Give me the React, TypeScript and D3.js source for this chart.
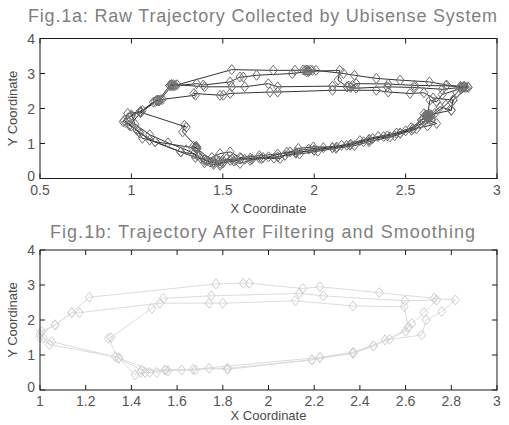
import React from 'react'
import * as d3 from 'd3'

// raw ubisense samples (fig 1a)
const rawX = [
  1.22, 1.23, 1.21, 1.24, 1.549, 1.776, 1.895, 1.94, 1.95, 1.96, 1.97, 1.98, 1.99, 2.01, 2.16, 2.22, 2.34, 2.47, 2.63, 2.725,
  2.80, 2.81, 2.82, 2.83, 2.843, 2.76, 2.75, 2.688, 2.64, 2.62, 2.61, 2.63, 2.615, 2.588, 2.533, 2.47, 2.415, 2.32, 2.27, 2.196,
  2.123, 1.995, 1.913, 1.868, 1.813, 1.713, 1.649, 1.594, 1.54, 1.485, 1.45, 1.40, 1.357, 1.35, 1.34, 1.36, 1.13, 1.047, 1.03, 0.99,
  0.956, 0.98, 1.047, 1.13, 1.14, 1.15, 1.16,
  1.22, 1.23, 1.357, 1.393, 1.54, 1.594, 1.612, 1.685, 1.88, 1.96, 1.97, 2.14, 2.13, 2.18, 2.19, 2.20, 2.21, 2.23, 2.405, 2.55,
  2.72, 2.80, 2.82, 2.70, 2.67, 2.633, 2.62, 2.61, 2.63, 2.60, 2.67, 2.62, 2.54, 2.47, 2.38, 2.30, 2.178, 2.10, 2.0, 1.90,
  1.80, 1.70, 1.594, 1.54, 1.485, 1.44, 1.42, 1.40, 1.35, 1.27, 1.13, 1.06, 1.03, 0.97, 0.99, 1.05, 1.14, 1.15, 1.17,
  1.35, 1.342, 1.485, 1.503, 1.54, 1.758, 1.80, 2.10, 2.34, 2.405, 2.524, 2.60, 2.65, 2.76, 2.75, 2.62, 2.615, 2.60, 2.625, 2.588,
  2.53, 2.45, 2.35, 2.25, 2.15, 2.05, 1.97, 1.85, 1.75, 1.65, 1.55, 1.50, 1.485, 1.45, 1.357, 1.35, 1.355, 1.28, 1.29, 1.30,
  1.047, 1.05, 1.0, 0.96, 1.0, 1.04, 1.10, 1.27, 1.34, 1.40, 1.45, 1.50, 1.56, 1.62, 1.7, 1.8, 1.9, 2.0, 2.1, 2.2,
  2.3, 2.4, 2.5, 2.58, 2.62, 2.63, 2.64, 2.66, 2.72, 2.78, 2.80, 2.82, 2.84,
  2.7, 2.55, 2.4, 2.23, 2.18, 2.10, 1.80, 1.749, 1.62, 1.549, 1.40, 1.25, 1.22, 1.21, 1.15, 1.12, 1.06, 1.0,
  1.02, 1.10, 1.2, 1.30, 1.36, 1.38, 1.41, 1.43, 1.46, 1.48, 1.50, 1.52, 1.57, 1.60, 1.66, 1.72, 1.78, 1.84, 1.92, 2.02,
  2.12, 2.22, 2.30, 2.44, 2.56, 2.60, 2.62, 2.64
]
const rawY = [
  2.67, 2.68, 2.65, 2.66, 3.11, 3.09, 3.09, 3.10, 3.09, 3.10, 3.08, 3.10, 3.09, 3.09, 3.0, 2.95, 2.86, 2.81, 2.76, 2.67,
  2.63, 2.61, 2.62, 2.60, 2.6, 2.24, 1.95, 2.05, 1.82, 1.78, 1.82, 1.75, 1.81, 1.67, 1.38, 1.29, 1.19, 1.14, 1.05, 0.95,
  0.9, 0.9, 0.86, 0.76, 0.57, 0.57, 0.52, 0.43, 0.52, 0.43, 0.45, 0.52, 0.9, 0.88, 0.92, 0.86, 1.05, 1.29, 1.38, 1.52,
  1.62, 1.86, 1.90, 2.2, 2.24, 2.22, 2.25,
  2.66, 2.64, 2.71, 2.67, 2.76, 2.90, 2.90, 2.95, 3.0, 3.05, 3.06, 3.09, 2.81, 2.62, 2.64, 2.60, 2.66, 2.71, 2.70, 2.66,
  2.65, 2.62, 2.60, 2.4, 2.19, 2.24, 1.81, 1.79, 1.83, 1.72, 1.57, 1.5, 1.42, 1.30, 1.20, 1.10, 0.95, 0.88, 0.80, 0.75,
  0.70, 0.65, 0.60, 0.76, 0.71, 0.60, 0.50, 0.55, 0.6, 0.76, 1.05, 1.15, 1.40, 1.60, 1.52, 1.88, 2.22, 2.21, 2.26,
  2.38, 2.43, 2.38, 2.38, 2.43, 2.47, 2.47, 2.52, 2.52, 2.47, 2.43, 2.45, 2.3, 2.24, 1.95, 1.81, 1.78, 1.85, 1.76, 1.67,
  1.45, 1.3, 1.2, 1.08, 0.95, 0.88, 0.84, 0.75, 0.62, 0.58, 0.55, 0.52, 0.38, 0.48, 0.86, 0.90, 0.92, 1.33, 1.52, 1.47,
  1.90, 1.92, 1.78, 1.66, 1.50, 1.34, 1.1, 0.76, 0.7, 0.45, 0.40, 0.45, 0.50, 0.55, 0.58, 0.62, 0.72, 0.82, 0.88, 0.98,
  1.12, 1.22, 1.36, 1.55, 1.70, 1.80, 1.78, 1.86, 2.10, 2.45, 2.58, 2.63, 2.62,
  2.55, 2.6, 2.62, 2.58, 2.62, 2.64, 2.62, 2.71, 2.62, 2.62, 2.62, 2.68, 2.69, 2.66, 2.24, 2.18, 1.95, 1.82,
  1.55, 1.25, 1.02, 0.82, 0.66, 0.58, 0.52, 0.47, 0.55, 0.50, 0.44, 0.56, 0.52, 0.58, 0.55, 0.60, 0.58, 0.66, 0.70, 0.78,
  0.86, 0.94, 1.05, 1.22, 1.42, 1.62, 1.74, 1.70
]

// filtered + smoothed track (fig 1b)
const smoothX = [
  1.007, 1.066, 1.139, 1.216, 1.77, 1.89, 1.916, 2.15, 2.225, 2.485, 2.724, 2.818, 2.758, 2.69, 2.67, 2.51, 2.459, 2.37, 2.225, 2.19,
  1.82, 1.74, 1.68, 1.547, 1.445, 1.343, 1.3, 1.31, 1.489, 1.54, 1.75, 2.135, 2.24, 2.597, 2.736, 2.68, 2.627, 2.612, 2.53, 2.37,
  2.225, 1.67, 1.62, 1.56, 1.48, 1.46, 1.44, 1.416, 1.345, 1.051, 1.015, 1.0, 1.066, 1.139, 1.172, 1.525, 1.74, 1.8, 2.117, 2.37,
  2.594, 2.612, 2.60, 2.459, 2.37, 2.19, 1.82, 1.55, 1.51, 1.33, 1.041, 1.0
]
const smoothY = [
  1.67, 1.86, 2.21, 2.65, 3.03, 3.05, 3.05, 2.9, 2.95, 2.78, 2.62, 2.57, 2.24, 2.0, 1.57, 1.43, 1.26, 1.05, 0.93, 0.86,
  0.59, 0.62, 0.57, 0.57, 0.57, 0.9, 1.48, 1.5, 2.33, 2.62, 2.69, 2.76, 2.69, 2.55, 2.57, 2.21, 1.9, 1.79, 1.45, 1.08,
  0.93, 0.59, 0.57, 0.55, 0.5, 0.5, 0.5, 0.43, 0.92, 1.38, 1.48, 1.6, 1.86, 2.21, 2.21, 2.48, 2.48, 2.48, 2.55, 2.4,
  2.38, 1.8, 1.68, 1.26, 1.05, 0.86, 0.62, 0.57, 0.5, 0.95, 1.30, 1.5
]

const topXTicks = [0.5, 1, 1.5, 2, 2.5, 3]
const botXTicks = [1, 1.2, 1.4, 1.6, 1.8, 2, 2.2, 2.4, 2.6, 2.8, 3]
const yTicks = [0, 1, 2, 3, 4]

const font = '"Liberation Sans", Arial, sans-serif'

function diamond(x: number, y: number) {
  return `M${x},${y - 5}L${x + 4},${y}L${x},${y + 5}L${x - 4},${y}Z`
}

function Panel(props: any) {
  const { xs, ys, xDomain, xTicks, top, title, titleLen, lineColor, markColor, titleY, xLabelGap } = props
  const left = 40, right = 497, bottom = top + 140

  const xScale = d3.scaleLinear().domain(xDomain).range([left, right])
  const yScale = d3.scaleLinear().domain([0, 4]).range([bottom, top])

  const pts: [number, number][] = xs.map((x: number, i: number) => [x, ys[i]])
  const line = d3.line<[number, number]>()
    .x(d => xScale(d[0]))
    .y(d => yScale(d[1]))

  return (
    <g>
      <text x={262.5} y={titleY} textAnchor='middle' fill='#7f7f7f'
        fontSize={18} fontFamily={font} textLength={titleLen} lengthAdjust='spacing'>{title}</text>

      <path d={line(pts) || ''} fill='none' stroke={lineColor} strokeWidth={1} />
      {pts.map((d, i) => (
        <path key={i} d={diamond(xScale(d[0]), yScale(d[1]))} fill='none'
          stroke={markColor} strokeWidth={1} />
      ))}

      <rect x={left} y={top} width={right - left} height={bottom - top}
        fill='none' stroke='#1a1a1a' strokeWidth={1} />

      {xTicks.map((t: number) => (
        <g key={'x' + t}>
          <line x1={xScale(t)} x2={xScale(t)} y1={bottom} y2={bottom - 5} stroke='#1a1a1a' />
          <line x1={xScale(t)} x2={xScale(t)} y1={top} y2={top + 5} stroke='#1a1a1a' />
          <text x={xScale(t)} y={bottom + 16} textAnchor='middle' fill='#555'
            fontSize={14} fontFamily={font}>{t}</text>
        </g>
      ))}
      {yTicks.map(t => (
        <g key={'y' + t}>
          <line x1={left} x2={left + 5} y1={yScale(t)} y2={yScale(t)} stroke='#1a1a1a' />
          <line x1={right} x2={right - 5} y1={yScale(t)} y2={yScale(t)} stroke='#1a1a1a' />
          <text x={left - 5} y={yScale(t) + (t === 0 ? 2 : 5)} textAnchor='end' fill='#555'
            fontSize={14} fontFamily={font}>{t}</text>
        </g>
      ))}

      <text x={(left + right) / 2} y={bottom + xLabelGap} textAnchor='middle' fill='#4a4a4a'
        fontSize={13} fontFamily={font}>X Coordinate</text>
      <text transform={`translate(${17},${(top + bottom) / 2}) rotate(-90)`} textAnchor='middle'
        fill='#4a4a4a' fontSize={13} fontFamily={font}>Y Coordinate</text>
    </g>
  )
}

export default function App() {
  return (
    <svg width={509} height={425} style={{ position: 'absolute', left: 0, top: 0, background: '#fff' }}>
      <Panel xs={rawX} ys={rawY} xDomain={[0.5, 3]} xTicks={topXTicks} top={38.5} titleY={22} titleLen={469}
        xLabelGap={34}
        title='Fig.1a: Raw Trajectory Collected by Ubisense System'
        lineColor='#333' markColor='#707070' />
      <Panel xs={smoothX} ys={smoothY} xDomain={[1, 3]} xTicks={botXTicks} top={250} titleY={238} titleLen={425}
        xLabelGap={30}
        title='Fig.1b: Trajectory After Filtering and Smoothing'
        lineColor='#dcdcdc' markColor='#cfcfcf' />
    </svg>
  )
}
